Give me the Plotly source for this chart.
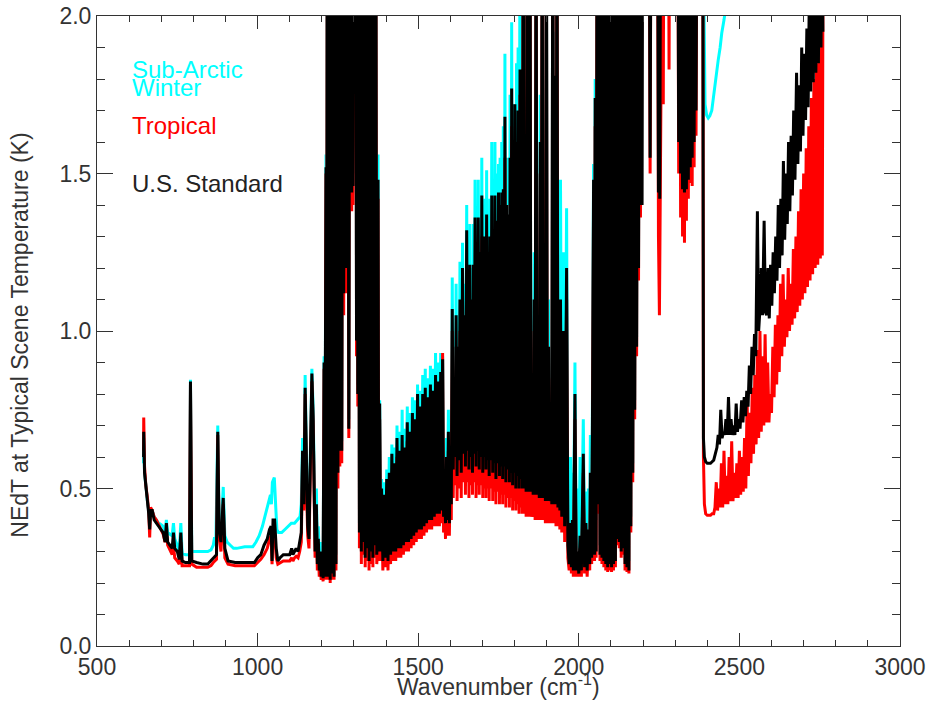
import plotly.graph_objects as go

# ---------------- data (wavenumber cm-1, NEdT K) ----------------
# values above 2.0 are off-scale (saturated) and get clipped by the axis range
OFF = 2.5

# U.S. Standard (black)
us_window = [(645,0.60),(645.5,0.68),(648,0.55),(652,0.50),(657,0.46),(661,0.42),(664,0.37),(667,0.43),(672,0.43),(678,0.40),(685,0.39),(692,0.38),(700,0.37),(706,0.36),(712,0.33),(716,0.39),(720,0.33),(728,0.32),(734,0.31),(738,0.36),(742,0.31),(750,0.30),(756,0.275),(761,0.36),(765,0.27),(775,0.265),(788,0.265),(791,0.84),(795,0.27),(810,0.265),(830,0.26),(845,0.26),(855,0.27),(862,0.28),(872,0.29),(876,0.68),(880,0.37),(886,0.33),(893,0.47),(898,0.31),(908,0.27),(930,0.265),(960,0.265),(990,0.265),(1000,0.28),(1010,0.29),(1020,0.32),(1030,0.34),(1037,0.37),(1042,0.38),(1045,0.27),(1048,0.40),(1053,0.40),(1058,0.31),(1063,0.27),(1070,0.28),(1080,0.29),(1090,0.29),(1100,0.29),(1106,0.31),(1110,0.29),(1115,0.30),(1120,0.31),(1126,0.30),(1131,0.33),(1136,0.36),(1140,0.62),(1144,0.45),(1148,0.82),(1152,0.55),(1156,0.38),(1160,0.34),(1164,0.60),(1169,0.865),(1173,0.72),(1176,0.40),(1179,0.30),(1183,0.45),(1186,0.26),(1189,0.34),(1192,0.24),(1195,0.30),(1198,0.22),(1201,0.27),(1204,0.215),(1207,0.90),(1209,0.22),(1213,1.52),(1215,0.22)]
us_v2_band = [(1217,OFF),(1220,0.22),(1223,OFF),(1226,0.21),(1229,OFF),(1232,0.23),(1235,OFF),(1238,0.22),(1241,OFF),(1244,0.26),(1247,OFF),(1250,0.55),(1253,OFF),(1256,0.62),(1259,OFF),(1262,0.62),(1265,OFF),(1268,1.12),(1271,OFF),(1274,1.20),(1277,OFF),(1279,1.72),(1281,OFF),(1284,0.69),(1287,OFF),(1289,1.45),(1291,OFF),(1293,1.44),(1295,OFF),(1297,1.46),(1299,OFF),(1306,OFF),(1308,0.97),(1310,OFF),(1312,0.80),(1314,OFF),(1317,0.36),(1320,OFF),(1323,0.30),(1326,OFF),(1329,0.33),(1332,OFF),(1335,0.28),(1338,OFF),(1341,0.31),(1344,OFF),(1347,0.27),(1350,OFF),(1353,0.30),(1356,OFF),(1359,0.28),(1362,OFF),(1365,0.32),(1368,OFF),(1371,0.29),(1373,0.35),(1375,1.48),(1377,0.30)]
us_h2o = [(1380,0.77),(1383,0.30),(1386,0.50),(1390,0.27),(1394,0.48),(1398,0.28),(1402,0.53),(1406,0.27),(1410,0.55),(1414,0.29),(1418,0.61),(1422,0.30),(1426,0.58),(1430,0.30),(1434,0.66),(1438,0.31),(1442,0.62),(1446,0.31),(1450,0.67),(1454,0.32),(1458,0.63),(1462,0.33),(1466,0.71),(1470,0.33),(1474,0.68),(1478,0.34),(1482,0.74),(1486,0.35),(1490,0.72),(1494,0.36),(1498,0.80),(1502,0.37),(1506,0.76),(1510,0.37),(1514,0.80),(1518,0.38),(1522,0.82),(1526,0.39),(1530,0.79),(1534,0.40),(1538,0.83),(1542,0.40),(1546,0.81),(1550,0.41),(1554,0.86),(1558,0.42),(1562,0.84),(1566,0.42),(1570,0.87),(1573,0.43),(1576,0.91),(1579,0.41),(1582,0.55),(1585,0.39),(1588,0.60),(1591,0.40),(1594,0.68),(1597,0.39),(1600,0.62),
    (1603,0.45),(1606,1.07),(1609,0.56),(1612,0.85),(1615,0.60),(1618,1.05),(1621,0.54),(1624,0.95),(1627,0.59),(1630,1.10),(1634,0.55),(1638,1.20),(1641,0.61),(1644,1.05),(1647,0.57),(1651,1.32),(1654,0.62),(1656,1.15),(1658,0.56),(1661,1.21),(1663,0.60),(1666,1.10),(1669,0.55),(1672,1.21),(1674,0.61),(1677,1.36),(1680,0.57),(1682,1.20),(1684,0.62),(1687,1.36),(1690,0.56),(1692,1.25),(1695,0.60),(1698,1.43),(1701,0.55),(1703,1.30),(1705,0.60),(1708,1.30),(1711,0.56),(1713,1.37),(1716,0.59),(1718,1.25),(1721,0.54),(1723,1.30),(1726,0.59),(1729,1.43),(1732,0.55),(1734,1.30),(1737,0.58),(1739,1.43),(1742,0.53),(1745,1.35),(1748,0.58),(1750,1.44),(1753,0.54),(1755,1.40),(1758,0.57),(1760,1.44),(1763,0.53),(1765,1.45),(1768,0.57),(1770,1.68),(1773,0.52),(1775,1.40),(1778,0.56),(1781,1.37),(1784,0.52),(1786,1.55),(1789,0.55),(1791,1.77),(1794,0.51),(1796,1.50),(1799,0.55),(1801,1.72),(1804,0.50),(1806,1.60),(1809,0.54),(1811,1.70),(1814,0.50),(1817,1.83),(1820,0.53),(1822,1.60),(1824,0.50),
    (1827,OFF),(1830,0.50),(1833,1.30),(1836,0.49),(1839,OFF),(1842,0.49),(1845,0.75),(1848,OFF),(1851,0.49),(1855,0.60),(1858,0.48),(1861,1.10),(1864,0.48),(1867,OFF),(1870,0.48),(1874,0.70),(1877,0.47),(1880,1.60),(1883,0.47),(1886,OFF),(1889,0.47),(1893,0.65),(1896,0.46),(1899,OFF),(1902,0.46),(1906,0.95),(1909,0.46),(1913,0.60),(1916,0.45),(1919,OFF),(1922,0.45),(1926,1.81),(1929,0.45),(1932,OFF),(1935,0.44),(1938,0.80),(1941,0.43),
    (1943,1.10),(1947,0.41),(1952,1.00),(1956,0.38),(1962,1.20),(1966,0.32),(1970,0.26),(1974,0.39),(1977,0.25),(1980,0.40),(1983,0.24),(1988,0.80),(1992,0.24),(1996,0.30),(2000,0.23),(2004,0.35),(2008,0.24),(2014,0.61),(2018,0.25),(2022,0.39),(2026,0.24),(2030,0.37),(2034,0.26),(2036,0.55),(2040,0.28),(2043,0.80),(2046,1.48),(2049,0.29),(2051,1.74),(2054,0.30)]
us_co_band = [(2057,OFF),(2060,0.45),(2063,OFF),(2066,0.29),(2069,OFF),(2072,0.28),(2075,OFF),(2078,0.27),(2081,OFF),(2084,0.26),(2087,OFF),(2090,0.25),(2093,OFF),(2096,0.26),(2099,OFF),(2102,0.25),(2105,OFF),(2108,0.26),(2111,OFF),(2114,0.27),(2117,OFF),(2120,0.34),(2123,OFF),(2126,0.33),(2129,OFF),(2132,0.30),(2135,OFF),(2138,0.31),(2141,OFF),(2144,0.26),(2147,OFF),(2150,0.25),(2153,OFF),(2156,0.24),(2159,OFF),(2162,0.38),(2165,OFF),(2168,0.55),(2171,OFF),(2174,0.75),(2177,OFF),(2180,0.95),(2183,OFF),(2186,1.20),(2189,OFF),(2192,1.40),(2195,OFF),(2197,1.40),(2199,OFF),
    (2219,OFF),(2222,1.55),(2225,OFF),(2245,OFF),(2248,1.44),(2250,OFF),(2252,1.42),(2255,OFF),(2308,OFF),(2311,1.60),(2314,OFF),(2317,1.50),(2320,OFF),(2323,1.45),(2326,OFF),(2329,1.44),(2332,OFF),(2335,1.45),(2338,OFF),(2341,1.48),(2344,OFF),(2347,1.52),(2350,OFF),(2353,1.55),(2356,OFF),(2359,1.60),(2362,OFF),(2365,1.70),(2368,OFF),(2385,OFF)]
us_swir = [(2386,OFF),(2388,0.66),(2391,0.60),(2395,0.585),(2400,0.58),(2405,0.58),(2410,0.58),(2415,0.585),(2420,0.59),(2425,0.61),(2430,0.63),(2434,0.67),(2438,0.64),(2442,0.75),(2446,0.66),(2450,0.68),(2454,0.67),(2458,0.72),(2462,0.67),(2466,0.79),(2470,0.67),(2474,0.72),(2478,0.67),(2482,0.70),(2486,0.67),(2490,0.77),(2494,0.68),(2498,0.72),(2502,0.69),(2507,0.78),(2511,0.71),(2515,0.79),(2519,0.73),(2523,0.81),(2527,0.76),(2531,0.89),(2535,0.80),(2539,0.95),(2543,0.86),(2547,0.99),(2551,0.92),(2556,1.38),(2560,1.00),(2564,1.07),(2568,1.20),(2572,1.05),(2577,1.35),(2581,1.06),(2585,1.05),(2589,1.20),(2593,1.04),(2597,1.21),(2601,1.08),(2605,1.25),(2609,1.12),(2613,1.30),(2617,1.16),(2621,1.40),(2625,1.20),(2629,1.42),(2633,1.24),(2637,1.54),(2641,1.29),(2645,1.50),(2649,1.34),(2653,1.60),(2657,1.38),(2661,1.62),(2665,1.43),(2669,1.70),(2673,1.48),(2678,1.82),(2682,1.53),(2686,1.78),(2690,1.57),(2694,1.90),(2698,1.62),(2702,1.88),(2706,1.67),(2710,1.96),(2714,1.71),(2718,2.1),(2722,1.76),(2726,2.3),(2730,1.79),(2734,2.3),(2738,1.82),(2742,2.3),(2746,1.85),(2750,2.3),(2754,1.90),(2757,2.3),(2760,1.95)]

# Tropical (red)
tr_window = [(645,0.62),(645.5,0.725),(648,0.57),(652,0.51),(657,0.47),(661,0.43),(664,0.345),(667,0.44),(672,0.43),(678,0.41),(685,0.40),(692,0.385),(700,0.37),(706,0.355),(712,0.33),(716,0.36),(720,0.32),(728,0.30),(734,0.29),(738,0.32),(742,0.28),(750,0.27),(756,0.26),(761,0.33),(765,0.255),(775,0.255),(788,0.255),(791,0.83),(795,0.26),(810,0.25),(830,0.25),(845,0.25),(855,0.255),(862,0.265),(872,0.275),(876,0.67),(880,0.35),(886,0.30),(893,0.45),(898,0.28),(908,0.26),(930,0.255),(960,0.255),(990,0.255),(1000,0.265),(1010,0.275),(1020,0.29),(1030,0.31),(1037,0.34),(1042,0.35),(1045,0.26),(1048,0.37),(1053,0.36),(1058,0.28),(1063,0.26),(1070,0.265),(1080,0.27),(1090,0.27),(1100,0.27),(1106,0.28),(1110,0.27),(1115,0.28),(1120,0.285),(1126,0.28),(1131,0.30),(1136,0.33),(1140,0.60),(1144,0.43),(1148,0.80),(1152,0.52),(1156,0.35),(1160,0.31),(1164,0.57),(1169,0.84),(1173,0.70),(1176,0.37),(1179,0.28),(1183,0.42),(1186,0.24),(1189,0.31),(1192,0.22),(1195,0.27),(1198,0.21),(1201,0.25),(1204,0.205),(1207,0.88),(1209,0.21),(1213,1.50),(1215,0.21)]
tr_v2_band = [(1217,OFF),(1220,0.21),(1223,OFF),(1226,0.20),(1229,OFF),(1232,0.21),(1235,OFF),(1238,0.21),(1241,OFF),(1244,0.24),(1247,OFF),(1250,0.50),(1253,OFF),(1256,0.57),(1259,OFF),(1262,0.58),(1265,OFF),(1268,1.05),(1271,OFF),(1274,1.12),(1277,OFF),(1279,1.65),(1281,OFF),(1284,0.66),(1287,OFF),(1289,1.38),(1291,OFF),(1293,1.38),(1295,OFF),(1297,1.40),(1299,OFF),(1306,OFF),(1308,0.92),(1310,OFF),(1312,0.76),(1314,OFF),(1317,0.31),(1320,OFF),(1323,0.26),(1326,OFF),(1329,0.29),(1332,OFF),(1335,0.25),(1338,OFF),(1341,0.27),(1344,OFF),(1347,0.24),(1350,OFF),(1353,0.26),(1356,OFF),(1359,0.25),(1362,OFF),(1365,0.28),(1368,OFF),(1371,0.26),(1373,0.30),(1375,1.42),(1377,0.27)]
tr_h2o = [(1380,0.72),(1383,0.27),(1386,0.45),(1390,0.24),(1394,0.43),(1398,0.25),(1402,0.48),(1406,0.24),(1410,0.50),(1414,0.26),(1418,0.55),(1422,0.27),(1426,0.52),(1430,0.27),(1434,0.60),(1438,0.28),(1442,0.56),(1446,0.28),(1450,0.61),(1454,0.29),(1458,0.57),(1462,0.30),(1466,0.65),(1470,0.30),(1474,0.62),(1478,0.31),(1482,0.68),(1486,0.32),(1490,0.66),(1494,0.33),(1498,0.74),(1502,0.34),(1506,0.70),(1510,0.34),(1514,0.74),(1518,0.35),(1522,0.76),(1526,0.36),(1530,0.73),(1534,0.37),(1538,0.77),(1542,0.37),(1546,0.75),(1550,0.38),(1554,0.80),(1558,0.38),(1562,0.78),(1566,0.38),(1570,0.82),(1573,0.39),(1576,0.93),(1579,0.36),(1582,0.50),(1585,0.34),(1588,0.55),(1591,0.35),(1594,0.62),(1597,0.35),(1600,0.58),
    (1603,0.40),(1606,1.00),(1609,0.47),(1612,0.75),(1615,0.51),(1618,0.95),(1621,0.46),(1624,0.85),(1627,0.50),(1630,1.00),(1634,0.47),(1638,1.10),(1641,0.52),(1644,0.90),(1647,0.48),(1651,1.20),(1654,0.52),(1656,0.95),(1658,0.47),(1661,1.05),(1663,0.51),(1666,0.85),(1669,0.48),(1672,1.05),(1674,0.52),(1677,1.20),(1680,0.47),(1682,0.95),(1684,0.51),(1687,1.20),(1690,0.48),(1692,1.00),(1695,0.51),(1698,1.30),(1701,0.47),(1703,1.05),(1705,0.50),(1708,1.10),(1711,0.47),(1713,1.20),(1716,0.50),(1718,1.00),(1721,0.46),(1723,1.10),(1726,0.50),(1729,1.30),(1732,0.46),(1734,1.05),(1737,0.49),(1739,1.30),(1742,0.45),(1745,1.10),(1748,0.49),(1750,1.30),(1753,0.45),(1755,1.15),(1758,0.48),(1760,1.30),(1763,0.45),(1765,1.30),(1768,0.48),(1770,1.55),(1773,0.44),(1775,1.20),(1778,0.47),(1781,1.20),(1784,0.44),(1786,1.40),(1789,0.47),(1791,1.65),(1794,0.43),(1796,1.30),(1799,0.46),(1801,1.60),(1804,0.43),(1806,1.45),(1809,0.45),(1811,1.55),(1814,0.42),(1817,1.75),(1820,0.44),(1822,1.45),(1824,0.42),
    (1827,OFF),(1830,0.42),(1833,1.20),(1836,0.41),(1839,OFF),(1842,0.41),(1845,0.65),(1848,OFF),(1851,0.41),(1855,0.52),(1858,0.41),(1861,1.00),(1864,0.40),(1867,OFF),(1870,0.40),(1874,0.60),(1877,0.40),(1880,1.50),(1883,0.40),(1886,OFF),(1889,0.40),(1893,0.55),(1896,0.39),(1899,OFF),(1902,0.39),(1906,0.85),(1909,0.39),(1913,0.52),(1916,0.39),(1919,OFF),(1922,0.39),(1926,1.70),(1929,0.38),(1932,OFF),(1935,0.38),(1938,0.70),(1941,0.37),
    (1943,1.00),(1947,0.36),(1952,0.92),(1956,0.33),(1962,1.10),(1966,0.28),(1970,0.24),(1974,0.34),(1977,0.23),(1980,0.35),(1983,0.22),(1988,0.72),(1992,0.22),(1996,0.27),(2000,0.22),(2004,0.31),(2008,0.22),(2014,0.55),(2018,0.23),(2022,0.35),(2026,0.22),(2030,0.33),(2034,0.24),(2036,0.50),(2040,0.26),(2043,0.74),(2046,1.40),(2049,0.27),(2051,1.65),(2054,0.28)]
tr_co_band = [(2057,OFF),(2060,0.42),(2063,OFF),(2066,0.27),(2069,OFF),(2072,0.26),(2075,OFF),(2078,0.25),(2081,OFF),(2084,0.24),(2087,OFF),(2090,0.235),(2093,OFF),(2096,0.24),(2099,OFF),(2102,0.235),(2105,OFF),(2108,0.24),(2111,OFF),(2114,0.25),(2117,OFF),(2120,0.32),(2123,OFF),(2126,0.31),(2129,OFF),(2132,0.28),(2135,OFF),(2138,0.29),(2141,OFF),(2144,0.24),(2147,OFF),(2150,0.235),(2153,OFF),(2156,0.23),(2159,OFF),(2162,0.36),(2165,OFF),(2168,0.52),(2171,OFF),(2174,0.72),(2177,OFF),(2180,0.92),(2183,OFF),(2186,1.16),(2189,OFF),(2192,1.36),(2195,OFF),(2199,OFF),
    (2219,OFF),(2222,1.50),(2225,OFF),(2245,OFF),(2248,1.30),(2251,1.05),(2254,1.40),(2256,OFF),(2261,OFF),(2263,1.72),(2265,OFF),(2279,OFF),(2281,1.83),(2283,OFF),(2308,OFF),(2311,1.50),(2314,OFF),(2317,1.36),(2320,OFF),(2323,1.30),(2326,OFF),(2329,1.28),(2332,OFF),(2335,1.35),(2338,OFF),(2341,1.42),(2344,OFF),(2347,1.47),(2350,OFF),(2353,1.46),(2356,OFF),(2359,1.52),(2362,OFF),(2365,1.62),(2368,OFF),(2385,OFF)]
tr_swir = [(2386,OFF),(2388,0.60),(2391,0.45),(2395,0.42),(2400,0.415),(2405,0.415),(2410,0.415),(2415,0.42),(2420,0.42),(2424,0.44),(2428,0.52),(2432,0.43),(2436,0.50),(2440,0.44),(2444,0.58),(2448,0.44),(2452,0.62),(2456,0.45),(2460,0.54),(2464,0.45),(2468,0.60),(2472,0.46),(2476,0.65),(2480,0.46),(2484,0.55),(2488,0.47),(2492,0.58),(2496,0.47),(2500,0.62),(2504,0.48),(2508,0.60),(2512,0.49),(2516,0.66),(2520,0.50),(2524,0.78),(2528,0.54),(2532,0.74),(2536,0.58),(2540,0.82),(2544,0.61),(2548,0.86),(2552,0.64),(2556,0.94),(2560,0.66),(2564,1.00),(2568,0.68),(2572,0.92),(2576,0.70),(2580,0.99),(2584,0.71),(2588,0.90),(2592,0.71),(2596,0.80),(2600,0.74),(2604,0.95),(2608,0.79),(2612,1.02),(2616,0.83),(2620,1.05),(2624,0.87),(2628,1.15),(2632,0.92),(2636,1.18),(2640,0.95),(2644,1.10),(2648,0.98),(2652,1.20),(2656,1.00),(2660,1.15),(2664,1.02),(2668,1.26),(2672,1.04),(2676,1.30),(2680,1.06),(2684,1.38),(2688,1.08),(2692,1.45),(2696,1.10),(2700,1.50),(2704,1.12),(2708,1.58),(2712,1.14),(2716,1.65),(2720,1.16),(2724,1.74),(2728,1.18),(2732,1.80),(2736,1.20),(2740,1.85),(2744,1.21),(2748,1.88),(2752,1.23),(2756,1.95),(2758,1.24),(2760,2.05)]

# Sub-Arctic Winter (cyan)
sw_window = [(645,0.58),(645.5,0.66),(648,0.55),(652,0.50),(657,0.46),(661,0.43),(664,0.39),(667,0.43),(672,0.43),(678,0.41),(685,0.40),(692,0.39),(700,0.385),(706,0.38),(712,0.36),(716,0.40),(720,0.36),(728,0.355),(734,0.35),(738,0.39),(742,0.34),(750,0.32),(756,0.30),(761,0.39),(765,0.295),(775,0.29),(788,0.29),(791,0.845),(795,0.30),(810,0.30),(830,0.30),(845,0.30),(855,0.305),(862,0.32),(866,0.345),(870,0.32),(876,0.70),(880,0.40),(886,0.35),(893,0.505),(898,0.35),(905,0.33),(915,0.32),(925,0.31),(935,0.31),(960,0.315),(985,0.315),(995,0.33),(1005,0.35),(1015,0.38),(1025,0.42),(1035,0.46),(1040,0.48),(1043,0.45),(1046,0.52),(1052,0.535),(1056,0.45),(1060,0.37),(1065,0.36),(1075,0.36),(1085,0.37),(1095,0.38),(1105,0.39),(1115,0.39),(1125,0.40),(1132,0.41),(1136,0.45),(1140,0.66),(1144,0.50),(1148,0.86),(1152,0.60),(1156,0.42),(1160,0.38),(1164,0.65),(1169,0.88),(1173,0.75),(1176,0.45),(1179,0.35),(1183,0.50),(1186,0.30),(1189,0.38),(1192,0.27),(1195,0.33),(1198,0.25),(1201,0.30),(1204,0.24),(1207,0.92),(1209,0.25),(1213,1.56),(1215,0.25)]
sw_v2_band = [(1217,OFF),(1220,0.25),(1223,OFF),(1226,0.24),(1229,OFF),(1232,0.26),(1235,OFF),(1238,0.25),(1241,OFF),(1244,0.29),(1247,OFF),(1250,0.58),(1253,OFF),(1256,0.65),(1259,OFF),(1262,0.65),(1265,OFF),(1268,1.15),(1271,OFF),(1274,1.24),(1277,OFF),(1279,1.76),(1281,OFF),(1284,0.72),(1287,OFF),(1289,1.49),(1291,OFF),(1293,1.48),(1295,OFF),(1297,1.50),(1299,OFF),(1306,OFF),(1308,1.00),(1310,OFF),(1312,0.83),(1314,OFF),(1317,0.39),(1320,OFF),(1323,0.33),(1326,OFF),(1329,0.36),(1332,OFF),(1335,0.31),(1338,OFF),(1341,0.34),(1344,OFF),(1347,0.30),(1350,OFF),(1353,0.33),(1356,OFF),(1359,0.31),(1362,OFF),(1365,0.35),(1368,OFF),(1371,0.32),(1373,0.38),(1375,1.56),(1377,0.33)]
sw_h2o = [(1380,0.78),(1383,0.32),(1386,0.53),(1390,0.29),(1394,0.52),(1398,0.30),(1402,0.56),(1406,0.29),(1410,0.60),(1414,0.31),(1418,0.64),(1422,0.32),(1426,0.63),(1430,0.32),(1434,0.70),(1438,0.33),(1442,0.68),(1446,0.33),(1450,0.75),(1454,0.34),(1458,0.69),(1462,0.35),(1466,0.76),(1470,0.35),(1474,0.74),(1478,0.36),(1482,0.79),(1486,0.37),(1490,0.78),(1494,0.38),(1498,0.83),(1502,0.39),(1506,0.81),(1510,0.39),(1514,0.86),(1518,0.40),(1522,0.88),(1526,0.41),(1530,0.85),(1534,0.42),(1538,0.89),(1542,0.42),(1546,0.88),(1550,0.43),(1554,0.93),(1558,0.44),(1562,0.90),(1566,0.44),(1570,0.93),(1573,0.45),(1576,0.92),(1579,0.44),(1582,0.60),(1585,0.42),(1588,0.66),(1591,0.43),(1594,0.75),(1597,0.42),(1600,0.70),
    (1603,0.48),(1606,1.17),(1609,0.59),(1612,0.95),(1615,0.63),(1618,1.15),(1621,0.57),(1624,1.05),(1627,0.62),(1630,1.22),(1634,0.58),(1638,1.28),(1641,0.64),(1644,1.15),(1647,0.60),(1651,1.40),(1654,0.65),(1656,1.25),(1658,0.59),(1661,1.34),(1663,0.63),(1666,1.20),(1669,0.58),(1672,1.34),(1674,0.64),(1677,1.48),(1680,0.60),(1682,1.30),(1684,0.65),(1687,1.48),(1690,0.59),(1692,1.35),(1695,0.63),(1698,1.55),(1701,0.58),(1703,1.40),(1705,0.63),(1708,1.42),(1711,0.59),(1713,1.51),(1716,0.62),(1718,1.35),(1721,0.57),(1723,1.42),(1726,0.62),(1729,1.60),(1732,0.58),(1734,1.45),(1737,0.61),(1739,1.60),(1742,0.56),(1745,1.50),(1748,0.61),(1750,1.53),(1753,0.57),(1755,1.55),(1758,0.60),(1760,1.60),(1763,0.56),(1765,1.65),(1768,0.60),(1770,1.88),(1773,0.55),(1775,1.55),(1778,0.59),(1781,1.55),(1784,0.55),(1786,1.75),(1789,0.58),(1791,1.98),(1794,0.54),(1796,1.70),(1799,0.58),(1801,1.72),(1804,0.53),(1806,1.85),(1809,0.57),(1811,1.90),(1814,0.53),(1817,OFF),(1820,0.56),(1822,1.80),(1824,0.53),
    (1827,OFF),(1830,0.53),(1833,1.45),(1836,0.52),(1839,OFF),(1842,0.52),(1845,0.85),(1848,OFF),(1851,0.52),(1855,0.68),(1858,0.51),(1861,1.25),(1864,0.51),(1867,OFF),(1870,0.51),(1874,0.80),(1877,0.50),(1880,1.75),(1883,0.50),(1886,OFF),(1889,0.50),(1893,0.75),(1896,0.49),(1899,OFF),(1902,0.49),(1906,1.10),(1909,0.49),(1913,0.70),(1916,0.48),(1919,OFF),(1922,0.48),(1926,1.95),(1929,0.48),(1932,OFF),(1935,0.47),(1938,0.95),(1941,0.46),
    (1943,1.48),(1947,0.50),(1952,1.25),(1956,0.42),(1962,1.39),(1966,0.35),(1970,0.30),(1974,0.60),(1977,0.30),(1980,0.55),(1983,0.30),(1988,0.90),(1992,0.30),(1996,0.50),(2000,0.28),(2004,0.60),(2008,0.30),(2014,0.72),(2018,0.30),(2022,0.49),(2026,0.30),(2030,0.50),(2034,0.32),(2036,0.67),(2040,0.32),(2043,0.88),(2046,1.53),(2049,0.35),(2051,1.80),(2054,0.40)]
sw_co_band = [(2057,OFF),(2060,0.48),(2063,OFF),(2066,0.32),(2069,OFF),(2072,0.31),(2075,OFF),(2078,0.30),(2081,OFF),(2084,0.29),(2087,OFF),(2090,0.28),(2093,OFF),(2096,0.29),(2099,OFF),(2102,0.28),(2105,OFF),(2108,0.29),(2111,OFF),(2114,0.30),(2117,OFF),(2120,0.37),(2123,OFF),(2126,0.36),(2129,OFF),(2132,0.33),(2135,OFF),(2138,0.34),(2141,OFF),(2144,0.29),(2147,OFF),(2150,0.28),(2153,OFF),(2156,0.27),(2159,OFF),(2162,0.41),(2165,OFF),(2168,0.58),(2171,OFF),(2174,0.78),(2177,OFF),(2180,0.98),(2183,OFF),(2186,1.24),(2189,OFF),(2192,1.44),(2195,OFF),(2385,OFF)]
sw_swir = [(2386,OFF),(2389,2.1),(2391,1.84),(2393,1.72),(2398,1.685),(2403,1.676),(2408,1.683),(2414,1.70),(2419,1.74),(2424,1.787),(2429,1.82),(2434,1.86),(2440,1.90),(2445,1.945),(2452,1.987),(2458,2.03),(2470,2.15),(2500,OFF),(2760,OFF)]

series = [
    ("Sub-Arctic Winter", sw_window + sw_v2_band + sw_h2o + sw_co_band + sw_swir, "#00FFFF"),
    ("Tropical", tr_window + tr_v2_band + tr_h2o + tr_co_band + tr_swir, "#FF0000"),
    ("U.S. Standard", us_window + us_v2_band + us_h2o + us_co_band + us_swir, "#000000"),
]

x_ticks = [500, 1000, 1500, 2000, 2500, 3000]
y_ticks = [0.0, 0.5, 1.0, 1.5, 2.0]
y_ticktext = ["0.0", "0.5", "1.0", "1.5", "2.0"]

FONT = "Liberation Sans, Arial, Helvetica, sans-serif"
AX = "#333333"

fig = go.Figure()
for name, pts, color in series:
    fig.add_trace(go.Scatter(
        x=[p[0] for p in pts], y=[p[1] for p in pts], mode="lines", name=name,
        line=dict(color=color, width=3), showlegend=False, hoverinfo="skip"))

labels = [("Sub-Arctic", 1.829, "#00FFFF"), ("Winter", 1.772, "#00FFFF"),
          ("Tropical", 1.651, "#FF0000"), ("U.S. Standard", 1.469, "#222222")]
for txt, yv, col in labels:
    fig.add_annotation(x=602, y=yv, xref="x", yref="y", text=txt, showarrow=False,
                       xanchor="left", yanchor="middle",
                       font=dict(family=FONT, size=24, color=col))

# axis titles placed as annotations (paper coordinates)
fig.add_annotation(x=0.5, y=-0.062, xref="paper", yref="paper", showarrow=False,
                   text="Wavenumber (cm<sup>-1</sup>)", xanchor="center", yanchor="middle",
                   font=dict(family=FONT, size=23, color=AX))
fig.add_annotation(x=-0.096, y=0.494, xref="paper", yref="paper", showarrow=False,
                   text="NEdT at Typical Scene Temperature (K)", textangle=-90,
                   xanchor="center", yanchor="middle",
                   font=dict(family=FONT, size=23, color=AX))

fig.update_layout(
    width=932, height=701,
    margin=dict(l=97, r=32, t=16, b=55, autoexpand=False),
    paper_bgcolor="white", plot_bgcolor="white",
    font=dict(family=FONT, size=23, color=AX),
    xaxis=dict(range=[500, 3000], tickmode="array", tickvals=x_ticks,
               ticktext=[str(v) for v in x_ticks], automargin=False,
               ticks="inside", ticklen=13, tickwidth=1, tickcolor=AX,
               showline=True, linecolor=AX, linewidth=1, mirror="ticks",
               showgrid=False, zeroline=False,
               minor=dict(dtick=100, tick0=500, ticks="inside", ticklen=6, tickcolor=AX, tickwidth=1, showgrid=False),
               tickfont=dict(family=FONT, size=23, color=AX)),
    yaxis=dict(range=[0, 2], tickmode="array", tickvals=y_ticks, ticktext=y_ticktext,
               automargin=False,
               ticks="inside", ticklen=16, tickwidth=1, tickcolor=AX,
               showline=True, linecolor=AX, linewidth=1, mirror="ticks",
               showgrid=False, zeroline=False,
               minor=dict(dtick=0.1, tick0=0, ticks="inside", ticklen=8, tickcolor=AX, tickwidth=1, showgrid=False),
               tickfont=dict(family=FONT, size=23, color=AX)),
)

fig.write_html("out.html", config={"displayModeBar": False},
               post_script="document.body.style.margin='0px';document.body.style.overflow='hidden';")
